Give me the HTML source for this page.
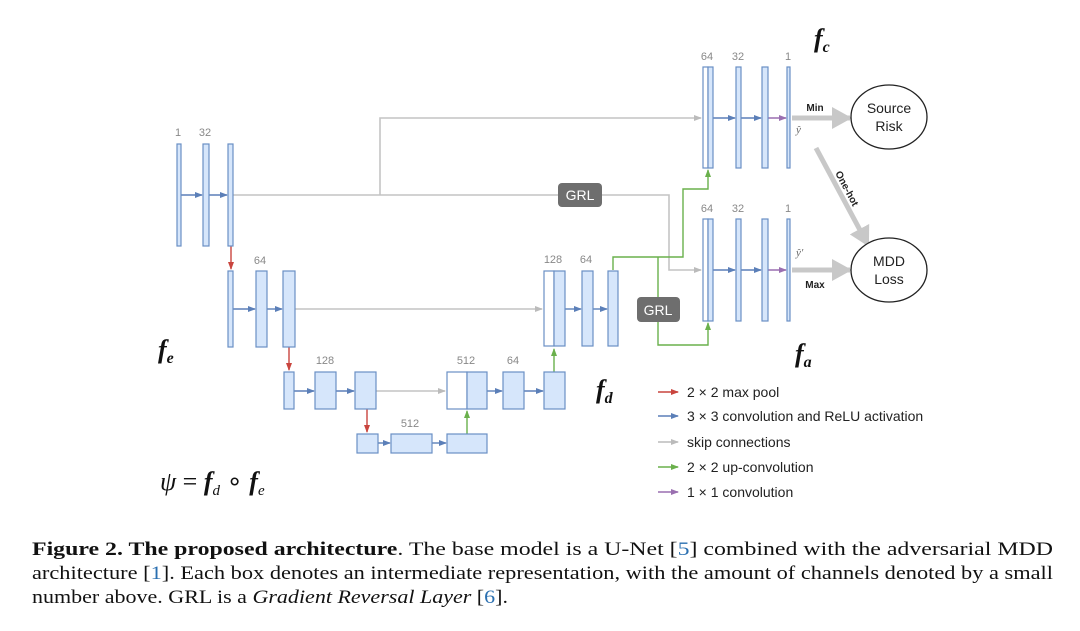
<!DOCTYPE html>
<html><head><meta charset="utf-8"><style>
html,body{margin:0;padding:0;background:#fff;}
svg{display:block;}
.b{fill:#d6e6fb;stroke:#6a8fc4;stroke-width:1.2;}
.w{fill:#fff;stroke:#6a8fc4;stroke-width:1.2;}
.n{font-family:"Liberation Sans",sans-serif;font-size:11px;fill:#888;text-anchor:middle;}
.lg{font-family:"Liberation Sans",sans-serif;font-size:14px;fill:#222;}
.cap{font-family:"Liberation Serif",serif;font-size:18.5px;fill:#111;}
.m{font-family:"Liberation Serif",serif;font-style:italic;font-weight:bold;fill:#111;}
</style></head><body>
<svg width="1080" height="631" viewBox="0 0 1080 631" xmlns="http://www.w3.org/2000/svg">
<defs>
<marker id="ab" markerWidth="8" markerHeight="8" refX="7" refY="3" orient="auto" markerUnits="userSpaceOnUse"><path d="M0,0 L8,3 L0,6z" fill="#5b7fb8"/></marker>
<marker id="ag" markerWidth="8" markerHeight="8" refX="7" refY="3" orient="auto" markerUnits="userSpaceOnUse"><path d="M0,0 L8,3 L0,6z" fill="#bbb"/></marker>
<marker id="ar" markerWidth="8" markerHeight="8" refX="7" refY="3" orient="auto" markerUnits="userSpaceOnUse"><path d="M0,0 L8,3 L0,6z" fill="#c9453e"/></marker>
<marker id="agr" markerWidth="8" markerHeight="8" refX="7" refY="3" orient="auto" markerUnits="userSpaceOnUse"><path d="M0,0 L8,3 L0,6z" fill="#6ab04c"/></marker>
<marker id="ap" markerWidth="8" markerHeight="8" refX="7" refY="3" orient="auto" markerUnits="userSpaceOnUse"><path d="M0,0 L8,3 L0,6z" fill="#9a6fb0"/></marker>
<marker id="big" markerWidth="20" markerHeight="22" refX="18" refY="11" orient="auto" markerUnits="userSpaceOnUse"><path d="M0,0 L20,11 L0,22z" fill="#c8c8c8"/></marker>
</defs>

<g stroke="#c4c4c4" stroke-width="1.6" fill="none">
<path d="M233,195 H558"/><path d="M602,195 H669 V270 H701" marker-end="url(#ag)"/>
<path d="M380,195 V118 H701" marker-end="url(#ag)"/>
<path d="M295,309 H542" marker-end="url(#ag)"/>
<path d="M376,391 H445" marker-end="url(#ag)"/>
</g>
<g stroke="#6ab04c" stroke-width="1.4" fill="none">
<path d="M613,270 V257 H683 V189 H708 V170" marker-end="url(#agr)"/>
<path d="M658,257 V345 H708 V323" marker-end="url(#agr)"/>
<path d="M554,372 V349" marker-end="url(#agr)"/>
<path d="M467,434 V411" marker-end="url(#agr)"/>
</g>
<g stroke="#c9453e" stroke-width="1.4" fill="none">
<path d="M231,246 V269" marker-end="url(#ar)"/>
<path d="M289,347 V370" marker-end="url(#ar)"/>
<path d="M367,409 V432" marker-end="url(#ar)"/>
</g>
<g stroke="#5b7fb8" stroke-width="1.4" fill="none" marker-end="url(#ab)">
<path d="M181,195 H202"/><path d="M209,195 H227"/>
<path d="M233,309 H255"/><path d="M267,309 H282"/>
<path d="M294,391 H314"/><path d="M336,391 H354"/>
<path d="M487,391 H502"/><path d="M524,391 H543"/>
<path d="M378,443 H390"/><path d="M432,443 H446"/>
<path d="M565,309 H581"/><path d="M593,309 H607"/>
<path d="M713,118 H735"/><path d="M741,118 H761"/>
<path d="M713,270 H735"/><path d="M741,270 H761"/>
</g>
<g stroke="#9a6fb0" stroke-width="1.4" fill="none" marker-end="url(#ap)">
<path d="M768,118 H786"/><path d="M768,270 H786"/>
</g>

<rect class="b" x="177" y="144" width="4" height="102"/>
<rect class="b" x="203" y="144" width="6" height="102"/>
<rect class="b" x="228" y="144" width="5" height="102"/>
<rect class="b" x="228" y="271" width="5" height="76"/>
<rect class="b" x="256" y="271" width="11" height="76"/>
<rect class="b" x="283" y="271" width="12" height="76"/>
<rect class="w" x="544" y="271" width="10" height="75"/><rect class="b" x="554" y="271" width="11" height="75"/>
<rect class="b" x="582" y="271" width="11" height="75"/>
<rect class="b" x="608" y="271" width="10" height="75"/>
<rect class="b" x="284" y="372" width="10" height="37"/>
<rect class="b" x="315" y="372" width="21" height="37"/>
<rect class="b" x="355" y="372" width="21" height="37"/>
<rect class="w" x="447" y="372" width="20" height="37"/><rect class="b" x="467" y="372" width="20" height="37"/>
<rect class="b" x="503" y="372" width="21" height="37"/>
<rect class="b" x="544" y="372" width="21" height="37"/>
<rect class="b" x="357" y="434" width="21" height="19"/>
<rect class="b" x="391" y="434" width="41" height="19"/>
<rect class="b" x="447" y="434" width="40" height="19"/>
<rect class="w" x="703" y="67" width="5" height="101"/><rect class="b" x="708" y="67" width="5" height="101"/>
<rect class="b" x="736" y="67" width="5" height="101"/>
<rect class="b" x="762" y="67" width="6" height="101"/>
<rect class="b" x="787" y="67" width="3" height="101"/>
<rect class="w" x="703" y="219" width="5" height="102"/><rect class="b" x="708" y="219" width="5" height="102"/>
<rect class="b" x="736" y="219" width="5" height="102"/>
<rect class="b" x="762" y="219" width="6" height="102"/>
<rect class="b" x="787" y="219" width="3" height="102"/>

<text class="n" x="178" y="136">1</text><text class="n" x="205" y="136">32</text>
<text class="n" x="260" y="264">64</text>
<text class="n" x="325" y="364">128</text><text class="n" x="466" y="364">512</text><text class="n" x="513" y="364">64</text>
<text class="n" x="410" y="427">512</text>
<text class="n" x="553" y="263">128</text><text class="n" x="586" y="263">64</text>
<text class="n" x="707" y="60">64</text><text class="n" x="738" y="60">32</text><text class="n" x="788" y="60">1</text>
<text class="n" x="707" y="212">64</text><text class="n" x="738" y="212">32</text><text class="n" x="788" y="212">1</text>

<rect x="558" y="183" width="44" height="24" rx="4" fill="#6e6e6e"/>
<text x="580" y="200" font-family="Liberation Sans,sans-serif" font-size="14" fill="#fff" text-anchor="middle">GRL</text>
<rect x="637" y="297" width="43" height="25" rx="4" fill="#6e6e6e"/>
<text x="658" y="315" font-family="Liberation Sans,sans-serif" font-size="14" fill="#fff" text-anchor="middle">GRL</text>

<g stroke="#c8c8c8" stroke-width="5" fill="none">
<path d="M792,118 H850" marker-end="url(#big)"/>
<path d="M792,270 H850" marker-end="url(#big)"/>
<path d="M816,148 L868,245" marker-end="url(#big)"/>
</g>
<text x="815" y="111" font-family="Liberation Sans,sans-serif" font-size="10" font-weight="bold" fill="#222" text-anchor="middle">Min</text>
<text x="815" y="288" font-family="Liberation Sans,sans-serif" font-size="10" font-weight="bold" fill="#222" text-anchor="middle">Max</text>
<text x="0" y="0" font-family="Liberation Sans,sans-serif" font-size="10" font-weight="bold" fill="#222" text-anchor="middle" transform="translate(844,190) rotate(62)">One-hot</text>
<text x="796" y="133" font-family="Liberation Serif,serif" font-style="italic" font-size="11" fill="#666">ŷ</text>
<text x="796" y="256" font-family="Liberation Serif,serif" font-style="italic" font-size="11" fill="#666">ŷ′</text>

<ellipse cx="889" cy="117" rx="38" ry="32" fill="#fff" stroke="#222" stroke-width="1.3"/>
<text x="889" y="113" font-family="Liberation Sans,sans-serif" font-size="14" fill="#222" text-anchor="middle">Source</text>
<text x="889" y="131" font-family="Liberation Sans,sans-serif" font-size="14" fill="#222" text-anchor="middle">Risk</text>
<ellipse cx="889" cy="270" rx="38" ry="32" fill="#fff" stroke="#222" stroke-width="1.3"/>
<text x="889" y="266" font-family="Liberation Sans,sans-serif" font-size="14" fill="#222" text-anchor="middle">MDD</text>
<text x="889" y="284" font-family="Liberation Sans,sans-serif" font-size="14" fill="#222" text-anchor="middle">Loss</text>

<text class="m" x="814" y="47" font-size="26">f<tspan font-size="16" dy="5">c</tspan></text>
<text class="m" x="795" y="362" font-size="26">f<tspan font-size="16" dy="5">a</tspan></text>
<text class="m" x="596" y="398" font-size="26">f<tspan font-size="16" dy="5">d</tspan></text>
<text class="m" x="158" y="358" font-size="26">f<tspan font-size="16" dy="5">e</tspan></text>
<text x="160" y="490" font-family="Liberation Serif,serif" font-size="26" fill="#111"><tspan font-style="italic">ψ</tspan> = <tspan font-style="italic" font-weight="bold">f</tspan><tspan font-size="15" font-style="italic" dy="5">d</tspan><tspan dy="-5"> ∘ </tspan><tspan font-style="italic" font-weight="bold">f</tspan><tspan font-size="15" font-style="italic" dy="5">e</tspan></text>

<g stroke-width="1.4">
<path d="M658,392 H678" stroke="#c9453e" marker-end="url(#ar)"/>
<path d="M658,416 H678" stroke="#5b7fb8" marker-end="url(#ab)"/>
<path d="M658,442 H678" stroke="#bbb" marker-end="url(#ag)"/>
<path d="M658,467 H678" stroke="#6ab04c" marker-end="url(#agr)"/>
<path d="M658,492 H678" stroke="#9a6fb0" marker-end="url(#ap)"/>
</g>
<text class="lg" x="687" y="397">2 × 2 max pool</text>
<text class="lg" x="687" y="421">3 × 3 convolution and ReLU activation</text>
<text class="lg" x="687" y="447">skip connections</text>
<text class="lg" x="687" y="472">2 × 2 up-convolution</text>
<text class="lg" x="687" y="497">1 × 1 convolution</text>

<text class="cap" x="32" y="555" textLength="1021" lengthAdjust="spacingAndGlyphs"><tspan font-weight="bold">Figure 2. The proposed architecture</tspan>. The base model is a U-Net [<tspan fill="#2a6fb0">5</tspan>] combined with the adversarial MDD</text>
<text class="cap" x="32" y="579" textLength="1021" lengthAdjust="spacingAndGlyphs">architecture [<tspan fill="#2a6fb0">1</tspan>]. Each box denotes an intermediate representation, with the amount of channels denoted by a small</text>
<text class="cap" x="32" y="603" textLength="476" lengthAdjust="spacingAndGlyphs">number above. GRL is a <tspan font-style="italic">Gradient Reversal Layer</tspan> [<tspan fill="#2a6fb0">6</tspan>].</text>
</svg>
</body></html>
